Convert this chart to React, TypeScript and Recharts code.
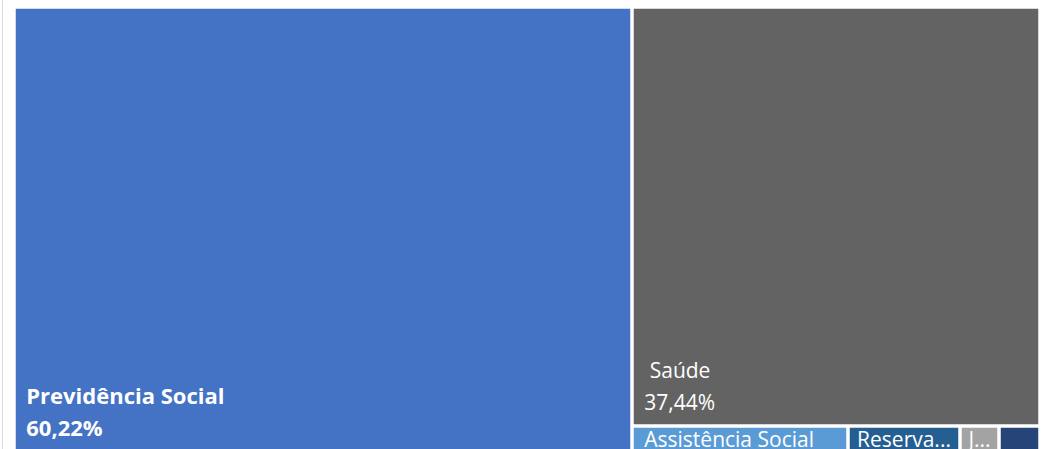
import React from 'react';
import { Treemap } from 'recharts';

const names = ['Previdência Social', ' Saúde', 'Assistência Social', 'Reserva de Contingência', 'Judiciária', 'Trabalho'];
const values = [60.22, 37.44, 1.23, 0.64, 0.22, 0.25];
const colors = ['#4472C4', '#636363', '#5B9BD5', '#255E91', '#A3A3A3', '#264478'];
const boldLabels = [true, false, false, false, false, false];
const showLabels = [true, true, true, true, true, false];

const data = names.map((name, i) => ({ name, size: values[i], idx: i }));

const FONT = '"Open Sans", "Noto Sans", sans-serif';
const FS_REG = 21;
const FS_BOLD = 22;
const GAP = 1.75;

let ctx: CanvasRenderingContext2D | null = null;
function measure(text: string, font: string): number {
  if (!ctx) {
    const c = document.createElement('canvas');
    ctx = c.getContext('2d');
  }
  if (!ctx) return text.length * 10;
  ctx.font = font;
  return ctx.measureText(text).width;
}

function fit(text: string, maxW: number, font: string): string {
  if (measure(text, font) <= maxW) return text;
  for (let n = text.length - 1; n > 0; n--) {
    const t = text.slice(0, n).trimEnd() + '...';
    if (measure(t, font) <= maxW) return t;
  }
  return '';
}

const fmt = (v: number) => v.toFixed(2).replace('.', ',') + '%';

const Tile = (props: any) => {
  const { x, y, width, height, depth, idx, name, value } = props;
  if (depth !== 1) return null;
  const fx = x + GAP;
  const fy = y + GAP;
  const fw = Math.max(0, width - 2 * GAP);
  const fh = Math.max(0, height - 2 * GAP);
  const bold = boldLabels[idx];
  const weight = bold ? 700 : 400;
  const fs = bold ? FS_BOLD : FS_REG;
  const font = `${weight} ${fs}px "Open Sans"`;
  const pct = fmt(value);
  const big = fh > 60;
  let label: React.ReactNode = null;
  if (showLabels[idx]) {
    if (big) {
      const base = fy + fh - 14;
      label = (
        <g>
          <text x={fx + 10.5} y={base - 32} fill="#fff" fontFamily={FONT} fontSize={fs} fontWeight={weight} style={{ whiteSpace: 'pre' }}>
            {name}
          </text>
          <text x={fx + 10.5} y={base} fill="#fff" fontFamily={FONT} fontSize={fs} fontWeight={weight}>
            {pct}
          </text>
        </g>
      );
    } else {
      const t = fit(name, fw - 6, font);
      const tw = measure(t, font);
      const off = Math.min(10.5, (fw - tw) / 2);
      label = (
        <text x={fx + off} y={fy + 19} fill="#fff" fontFamily={FONT} fontSize={fs} fontWeight={weight}>
          {t}
        </text>
      );
    }
  }
  return (
    <g>
      <rect x={fx} y={fy} width={fw} height={fh} fill={colors[idx]} />
      {label}
    </g>
  );
};

export default function App() {
  return (
    <div style={{ position: 'fixed', left: 0, top: 0, width: 1045, height: 449, overflow: 'hidden', background: '#fff' }}>
      <div style={{ position: 'absolute', left: 2, top: 0, width: 1, height: 449, background: '#d9d9d9' }} />
      <div style={{ position: 'absolute', left: 14, top: 7 }}>
        <Treemap
          width={1026}
          height={445}
          data={data}
          dataKey="size"
          nameKey="name"
          isAnimationActive={false}
          content={<Tile />}
        />
      </div>
    </div>
  );
}
